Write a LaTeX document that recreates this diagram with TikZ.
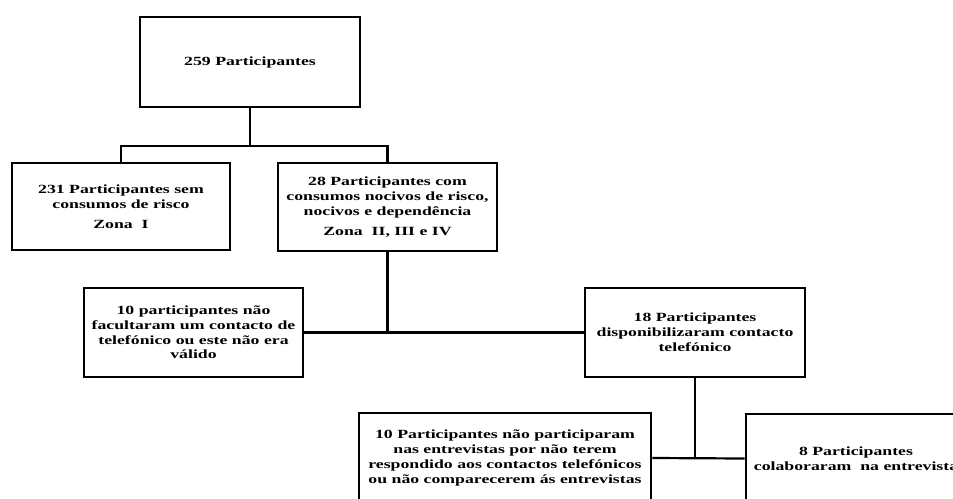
\documentclass[tikz,border=0pt]{standalone}
\usepackage{fontspec}
\setmainfont{Liberation Serif}[FakeStretch=1.42]
\usetikzlibrary{calc}
\begin{document}
\begin{tikzpicture}[x=1pt,y=-1pt,
  box/.style={draw, line width=2.6pt, align=center, inner sep=0pt,
    font=\fontsize{12.5}{14.8}\selectfont\bfseries},
  conn/.style={line width=2.2pt}]
\useasboundingbox (0,0) rectangle (953,498);
\clip (0,0) rectangle (953,498);
\node[box, minimum width=220pt, minimum height=90pt] (top) at (250,62) {259 Participantes};
\node[box, minimum width=218pt, minimum height=87pt] (b231) at (121,206.5)
  {231 Participantes sem\\consumos de risco\\[5pt]Zona\ \ I};
\node[box, minimum width=219pt, minimum height=88pt] (b28) at (387.5,207)
  {28 Participantes com\\consumos nocivos de risco,\\nocivos e dependência\\[5pt]Zona\ \ II, III e IV};
\node[box, minimum width=219pt, minimum height=89pt] (b10a) at (193.5,332.5)
  {10 participantes não\\facultaram um contacto de\\telefónico ou este não era\\válido};
\node[box, minimum width=220pt, minimum height=89pt] (b18) at (695,332.5)
  {18 Participantes\\disponibilizaram contacto\\telefónico};
\node[box, minimum width=292pt, minimum height=90pt] (b10b) at (505,458)
  {10 Participantes não participaram\\nas entrevistas por não terem\\respondido aos contactos telefónicos\\ou não comparecerem ás entrevistas};
\node[box, minimum width=220pt, minimum height=89pt] (b8) at (856,458.5)
  {8 Participantes\\colaboraram\ \ na entrevista};
% connectors
\coordinate (j1) at ($(top.south)+(0,38)$);
\draw[conn] (top.south) -- (j1);
\draw[conn] (b231.north) |- (j1) -| (b28.north);
\draw[conn] (b10a.east) -- (b18.west);
\draw[conn] (b28.south) -- (b28.south |- b10a.east);
\draw[conn] (b10b.east) -- (b8.west);
\draw[conn] (b18.south) -- (b18.south |- b10b.east);
\end{tikzpicture}
\end{document}
